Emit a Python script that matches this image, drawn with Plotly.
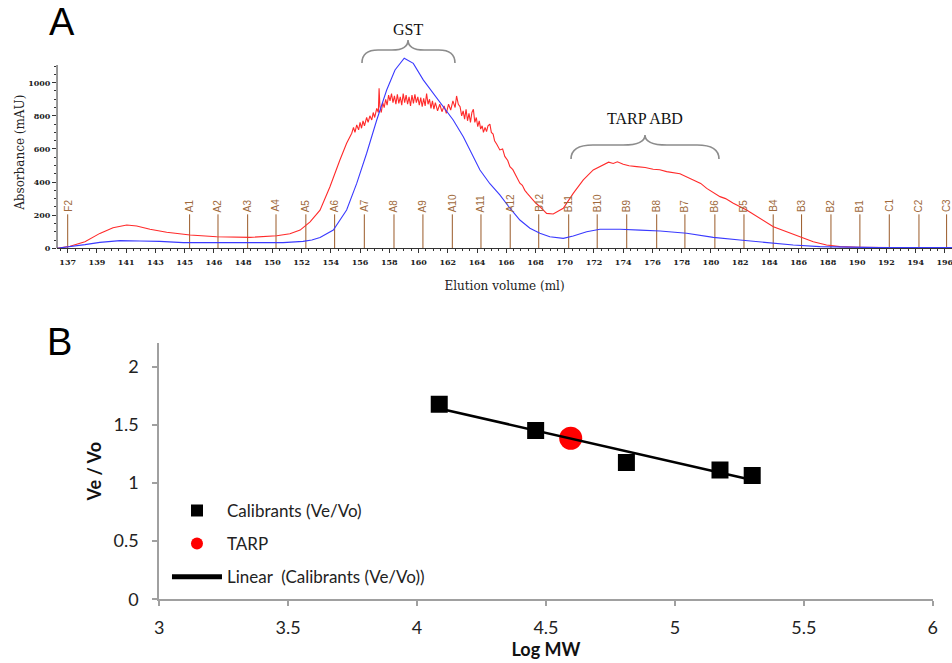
import numpy as np
import plotly.graph_objects as go

# ---------------- Panel A data ----------------
tick_labels = ["137", "139", "141", "143", "145", "146", "148", "150", "152", "154", "156",
               "158", "160", "162", "164", "166", "168", "170", "172", "174", "176", "178",
               "180", "182", "184", "186", "188", "190", "192", "194", "196"]
tick_positions = [137 + 2 * i for i in range(len(tick_labels))]

fraction_names = ["F2", "A1", "A2", "A3", "A4", "A5", "A6", "A7", "A8", "A9", "A10", "A11", "A12",
                  "B12", "B11", "B10", "B9", "B8", "B7", "B6", "B5", "B4", "B3", "B2", "B1",
                  "C1", "C2", "C3"]
fraction_volume = [137.0, 145.34, 147.28, 149.31, 151.25, 153.29, 155.26, 157.29, 159.32, 161.30,
                   163.31, 165.27, 167.27, 169.22, 171.27, 173.22, 175.24, 177.29, 179.22, 181.27,
                   183.26, 185.26, 187.20, 189.21, 191.19, 193.20, 195.23, 197.12]
fraction_height = 205

blue_volume = [136.27, 136.6, 137.16, 138.18, 139.2, 140.58, 141.94, 143.3, 144.9, 147.2, 149.47,
               151.73, 153.1, 153.7, 154.26, 155.17, 156.08, 156.77, 157.45, 158.14, 158.82, 159.39,
               160.02, 160.64, 161.32, 162.01, 162.69, 163.37, 164.06, 164.74, 165.2, 165.88,
               166.56, 167.25, 167.93, 168.62, 169.3, 169.98, 170.9, 171.58, 172.5, 173.41,
               174.78, 176.15, 177.52, 179.34, 181.16, 182.98, 184.81, 186.63, 188.45, 190.28,
               192.56, 197.5]
blue_mAU = [0, 3, 10, 22, 36, 46, 44, 42, 34, 34, 34,
            34, 42, 50, 65, 110, 231, 392, 574, 775, 956, 1077,
            1148, 1117, 1017, 936, 855, 775, 674, 553, 473, 390,
            322, 242, 171, 121, 91, 70, 60, 74, 100, 115,
            115, 110, 104, 91, 66, 50, 34, 20, 10, 6,
            4, 4]

red_volume = [136.27, 136.6, 137.16, 138.18, 139.2, 140.1, 141.04, 141.72, 142.63, 143.77, 145.37,
              147.19, 149.47, 151.3, 152.2, 152.9, 153.58, 154.26, 154.94, 155.62, 156.08,
              156.43, 156.55, 156.65, 156.77, 156.9, 157.0, 157.1, 157.2, 157.3, 157.45, 157.55,
              157.67, 157.8, 157.9, 158.0, 158.14, 158.25, 158.3, 158.36, 158.45, 158.55, 158.65,
              158.75, 158.85, 158.95, 159.05, 159.15, 159.25, 159.35, 159.45, 159.55, 159.65,
              159.75, 159.85, 159.95, 160.05, 160.15, 160.25, 160.35, 160.45, 160.55, 160.65,
              160.75, 160.85, 160.95, 161.05, 161.15, 161.25, 161.35, 161.45, 161.55, 161.65,
              161.75, 161.85, 161.95, 162.05, 162.15, 162.3, 162.45, 162.6, 162.75, 162.9,
              163.05, 163.2, 163.35, 163.5, 163.6, 163.72, 163.84, 163.95, 164.05, 164.15,
              164.25, 164.35, 164.45, 164.55, 164.65, 164.75, 164.85, 164.95, 165.05, 165.15,
              165.25, 165.35, 165.44, 165.55, 165.65, 165.75, 165.88, 165.98, 166.1, 166.2,
              166.34, 166.56, 166.75, 166.9, 167.1, 167.25, 167.45, 167.59, 167.8, 167.93,
              168.1, 168.27, 168.45, 168.62, 169.0, 169.3, 169.76, 170.21, 170.9, 171.58,
              172.27, 172.95, 173.63, 174.0, 174.32, 174.6, 175.0, 175.4, 175.92, 176.5,
              177.05, 177.5, 177.97, 178.4, 178.88, 179.79, 180.3, 180.71, 181.62, 182.0,
              182.53, 183.44, 184.35, 185.27, 186.18, 187.09, 188.0, 188.91, 189.82, 191.19,
              193.24]
red_mAU = [0, 5, 12, 40, 90, 124, 141, 135, 115, 97, 80,
           70, 66, 76, 88, 110, 160, 230, 372, 533, 634,
           695, 730, 700, 745, 715, 760, 725, 770, 740, 790, 760,
           800, 775, 820, 790, 845, 820, 966, 855, 820, 880, 850,
           900, 865, 925, 890, 935, 880, 920, 870, 930, 875,
           915, 865, 935, 880, 925, 870, 915, 860, 925, 875,
           930, 880, 915, 865, 910, 855, 905, 860, 935, 870,
           900, 845, 890, 840, 880, 830, 870, 825, 860, 815,
           870, 835, 890, 850, 920, 870, 855, 800, 830, 780,
           840, 770, 815, 760, 820, 840, 760, 790, 735, 770,
           720, 740, 700, 730, 705, 740, 750, 700, 690, 650,
           630, 594, 600, 555, 530, 493, 475, 450, 420, 393,
           380, 350, 330, 312, 275, 251, 211, 207, 242, 332,
           413, 473, 503, 520, 512, 522, 507, 498, 493, 488,
           477, 474, 463, 455, 450, 413, 392, 362, 312, 300,
           272, 231, 181, 130, 100, 70, 40, 20, 10, 6,
           4]

y_axis_top = 1107

# ---------------- Panel B data ----------------
calib_logmw = [4.086, 4.46, 4.812, 5.175, 5.30]
calib_ve_vo = [1.677, 1.45, 1.175, 1.112, 1.063]
tarp_logmw = [4.596]
tarp_ve_vo = [1.384]

slope, intercept = np.polyfit(calib_logmw, calib_ve_vo, 1)
fit_x = [min(calib_logmw), max(calib_logmw)]
fit_y = [slope * v + intercept for v in fit_x]

# ---------------- Figure ----------------
fig = go.Figure()

frac_x, frac_y = [], []
for v in fraction_volume:
    frac_x += [v, v, None]
    frac_y += [0, fraction_height, None]
fig.add_trace(go.Scatter(x=frac_x, y=frac_y, mode="lines", line=dict(color="#9a5a28", width=1),
                         xaxis="x", yaxis="y", showlegend=False, hoverinfo="skip"))
fig.add_trace(go.Scatter(x=red_volume, y=red_mAU, mode="lines", line=dict(color="#ff2a2a", width=1.1),
                         xaxis="x", yaxis="y", showlegend=False))
fig.add_trace(go.Scatter(x=blue_volume, y=blue_mAU, mode="lines", line=dict(color="#3a3aff", width=1.1),
                         xaxis="x", yaxis="y", showlegend=False))

fig.add_trace(go.Scatter(x=calib_logmw, y=calib_ve_vo, mode="markers", name="Calibrants (Ve/Vo)",
                         legendgroup="g1",
                         marker=dict(symbol="square", size=17, color="black"),
                         xaxis="x2", yaxis="y2"))
fig.add_trace(go.Scatter(x=tarp_logmw, y=tarp_ve_vo, mode="markers", name="TARP",
                         legendgroup="g2",
                         marker=dict(symbol="circle", size=23, color="#ff0000"),
                         xaxis="x2", yaxis="y2"))
fig.add_trace(go.Scatter(x=fit_x, y=fit_y, mode="lines", name="Linear  (Calibrants (Ve/Vo))",
                         legendgroup="g3",
                         line=dict(color="black", width=2.5), xaxis="x2", yaxis="y2"))

annotations = []
for name, v in zip(fraction_names, fraction_volume):
    annotations.append(dict(x=v, y=fraction_height + 2, xref="x", yref="y", text=name, showarrow=False,
                            textangle=-90, xanchor="center", yanchor="bottom",
                            font=dict(family="Liberation Sans", size=10, color="#a06a3c")))

annotations += [
    dict(x=160.28, y=0.955, xref="x", yref="paper", text="GST", showarrow=False,
         xanchor="center", yanchor="middle",
         font=dict(family="Liberation Serif", size=16, color="#111")),
    dict(x=176.49, y=0.822, xref="x", yref="paper", text="TARP ABD", showarrow=False,
         xanchor="center", yanchor="middle",
         font=dict(family="Liberation Serif", size=16, color="#111")),
    dict(x=0.0651, y=0.967, xref="paper", yref="paper", text="A", showarrow=False,
         xanchor="center", yanchor="middle",
         font=dict(family="Liberation Sans", size=38, color="black")),
    dict(x=0.063, y=0.484, xref="paper", yref="paper", text="B", showarrow=False,
         xanchor="center", yanchor="middle",
         font=dict(family="Liberation Sans", size=38, color="black")),
]


def brace(x0, x1, xt, d, y_end, y_mid, y_tip):
    return (f"M{x0},{y_end} Q{x0},{y_mid} {x0 + d},{y_mid} L{xt - d},{y_mid} "
            f"Q{xt},{y_mid} {xt},{y_tip} Q{xt},{y_mid} {xt + d},{y_mid} "
            f"L{x1 - d},{y_mid} Q{x1},{y_mid} {x1},{y_end}")


shapes = [
    dict(type="path", xref="x", yref="paper", path=brace(157.13, 163.49, 160.28, 1.1, 0.905, 0.9246, 0.9397),
         line=dict(color="#8c8c8c", width=1.6)),
    dict(type="path", xref="x", yref="paper", path=brace(171.43, 181.55, 176.49, 1.5, 0.7602, 0.7813, 0.7964),
         line=dict(color="#8c8c8c", width=1.6)),
    # y-axis line of panel A (ends at the top tick region)
    dict(type="line", xref="paper", yref="y", x0=0.0599, x1=0.0599, y0=0, y1=y_axis_top,
         line=dict(color="#333", width=1)),
]

fontb = dict(family="Lato", size=18, color="#222")

fig.update_layout(
    width=952, height=663,
    margin=dict(l=0, r=0, t=0, b=0),
    paper_bgcolor="white", plot_bgcolor="white",
    showlegend=True,
    xaxis=dict(domain=[0.0599, 1.0], range=[136.27, 197.49], anchor="y", automargin=False,
               tickmode="array", tickvals=tick_positions, ticktext=tick_labels,
               ticklabeloverflow="allow",
               tickfont=dict(family="DejaVu Serif", size=8, color="#222", weight="bold"),
               showline=True, linecolor="#333", linewidth=1, ticks="outside", ticklen=4,
               tickcolor="#333", showgrid=False, zeroline=False, ticklabelstandoff=2,
               minor=dict(tickmode="linear", tick0=137, dtick=0.5, ticks="outside", ticklen=2,
                          tickcolor="#333", showgrid=False),
               title=dict(text="Elution volume (ml)",
                          font=dict(family="DejaVu Serif", size=12, color="#222"), standoff=15)),
    yaxis=dict(domain=[0.6255, 0.9152], range=[0, 1160], anchor="x", automargin=False,
               tickmode="array", tickvals=[0, 200, 400, 600, 800, 1000],
               tickfont=dict(family="DejaVu Serif", size=8, color="#222", weight="bold"),
               showline=False, ticks="outside", ticklen=4,
               tickcolor="#333", showgrid=False, zeroline=False,
               minor=dict(tickmode="array", tickvals=list(range(0, 1101, 50)), ticks="outside", ticklen=2,
                          tickcolor="#333", showgrid=False),
               title=dict(text="Absorbance (mAU)", font=dict(family="DejaVu Serif", size=12, color="#222"),
                          standoff=0)),
    xaxis2=dict(domain=[0.1673, 0.9797], range=[3, 6], anchor="y2", automargin=False,
                tickmode="array", tickvals=[3, 3.5, 4, 4.5, 5, 5.5, 6],
                tickfont=fontb, showline=True, linecolor="#a0a0a0", linewidth=2,
                ticks="outside", ticklen=5, tickcolor="#a0a0a0", tickwidth=2,
                showgrid=False, zeroline=False, ticklabelstandoff=6,
                title=dict(text="<b>Log MW</b>", font=dict(family="Lato", size=18, color="#111"), standoff=4)),
    yaxis2=dict(domain=[0.0961, 0.4822], range=[0, 2.2], anchor="x2", automargin=False,
                tickmode="array", tickvals=[0, 0.5, 1, 1.5, 2],
                tickfont=fontb, showline=True, linecolor="#a0a0a0", linewidth=2,
                ticks="outside", ticklen=5, tickcolor="#a0a0a0", tickwidth=2,
                showgrid=False, zeroline=False, ticklabelstandoff=10,
                title=dict(text="<b>Ve / Vo</b>", font=dict(family="Lato", size=18, color="#111"), standoff=7)),
    legend=dict(x=0.1754, y=0.2565, xanchor="left", yanchor="top", bgcolor="rgba(0,0,0,0)",
                font=dict(family="Lato", size=17, color="#222"), itemsizing="constant",
                itemwidth=50, tracegroupgap=8),
    annotations=annotations,
    shapes=shapes,
)

fig.write_html("out.html", config={"displayModeBar": False},
               post_script="document.body.style.margin='0';document.body.style.overflow='hidden';")
